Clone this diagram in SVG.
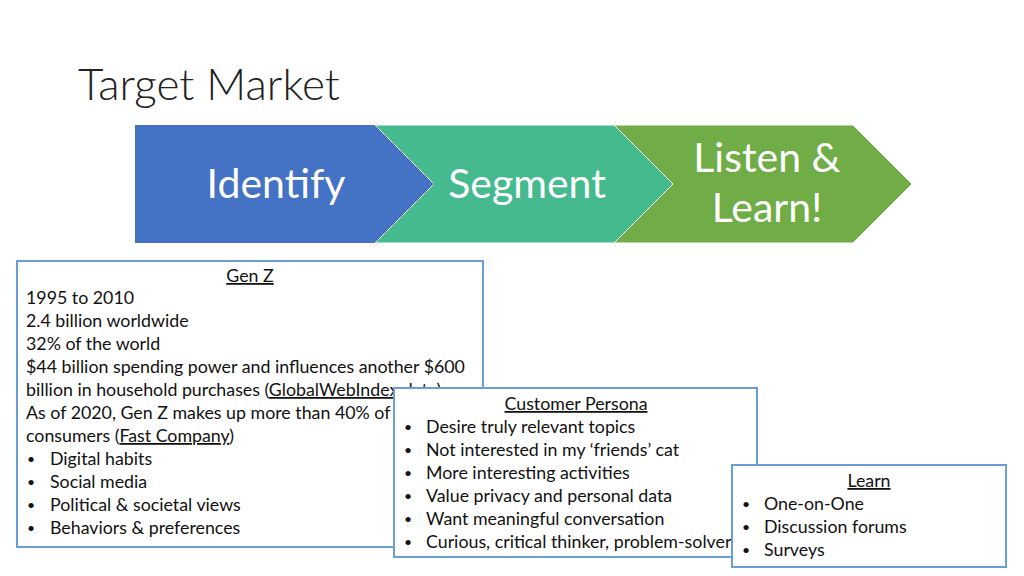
<svg xmlns="http://www.w3.org/2000/svg" width="1024" height="576" viewBox="0 0 1024 576">
<style>
.t{font-family:Lato,"Liberation Sans",sans-serif;font-size:17.8px;fill:#111}
.b{font-family:Lato,"Liberation Sans",sans-serif;font-size:14px;fill:#111}
.u{text-decoration:underline}
.c{font-family:Lato,"Liberation Sans",sans-serif;font-size:41px;fill:#fff;text-anchor:middle}
.box{fill:#fff;stroke:#6A9FD6;stroke-width:2}
</style>
<rect width="1024" height="576" fill="#fff"/>
<text x="78" y="100" font-family="Lato,'Liberation Sans',sans-serif" font-weight="300" font-size="44" fill="#222">Target Market</text>
<g id="identify">
<polygon points="135,125 375,125 434,184 375,243 135,243" fill="#4472C4"/>
<text class="c" x="276" y="198">Identify</text>
</g>
<g id="segment">
<polygon points="375,125 614,125 673,184 614,243 375,243 434,184" fill="#44BA8E" stroke="#fff" stroke-width="1"/>
<text class="c" x="527" y="198">Segment</text>
</g>
<g id="listen">
<polygon points="614,125 853,125 912,184 853,243 614,243 673,184" fill="#70AD47" stroke="#fff" stroke-width="1"/>
<text class="c" x="767" y="172">Listen &amp;</text>
<text class="c" x="767" y="222">Learn!</text>
</g>
<g id="genz">
<rect class="box" x="17" y="261" width="466" height="286"/>
<text class="t u" x="250" y="282" text-anchor="middle">Gen Z</text>
<text class="t" x="26" y="304">1995 to 2010</text>
<text class="t" x="26" y="327">2.4 billion worldwide</text>
<text class="t" x="26" y="350">32% of the world</text>
<text class="t" x="26" y="373">$44 billion spending power and influences another $600</text>
<text class="t" x="26" y="396">billion in household purchases (<tspan class="u">GlobalWebIndex data</tspan>)</text>
<text class="t" x="26" y="419">As of 2020, Gen Z makes up more than 40% of U.S.</text>
<text class="t" x="26" y="442">consumers (<tspan class="u">Fast Company</tspan>)</text>
<text class="b" x="27" y="464">•</text><text class="t" x="50" y="465">Digital habits</text>
<text class="b" x="27" y="487">•</text><text class="t" x="50" y="488">Social media</text>
<text class="b" x="27" y="510">•</text><text class="t" x="50" y="511">Political &amp; societal views</text>
<text class="b" x="27" y="533">•</text><text class="t" x="50" y="534">Behaviors &amp; preferences</text>
</g>
<g id="persona">
<rect class="box" x="394" y="388" width="363" height="169"/>
<text class="t u" x="576" y="410" text-anchor="middle">Customer Persona</text>
<text class="b" x="404" y="432">•</text><text class="t" x="426" y="433">Desire truly relevant topics</text>
<text class="b" x="404" y="455">•</text><text class="t" x="426" y="456">Not interested in my ‘friends’ cat</text>
<text class="b" x="404" y="478">•</text><text class="t" x="426" y="479">More interesting activities</text>
<text class="b" x="404" y="501">•</text><text class="t" x="426" y="502">Value privacy and personal data</text>
<text class="b" x="404" y="524">•</text><text class="t" x="426" y="525">Want meaningful conversation</text>
<text class="b" x="404" y="547">•</text><text class="t" x="426" y="548">Curious, critical thinker, problem-solver</text>
</g>
<g id="learn">
<rect class="box" x="732" y="465" width="274" height="102"/>
<text class="t u" x="869" y="487" text-anchor="middle">Learn</text>
<text class="b" x="742" y="509">•</text><text class="t" x="764" y="510">One-on-One</text>
<text class="b" x="742" y="532">•</text><text class="t" x="764" y="533">Discussion forums</text>
<text class="b" x="742" y="555">•</text><text class="t" x="764" y="556">Surveys</text>
</g>
<g id="connectors"/>
</svg>
